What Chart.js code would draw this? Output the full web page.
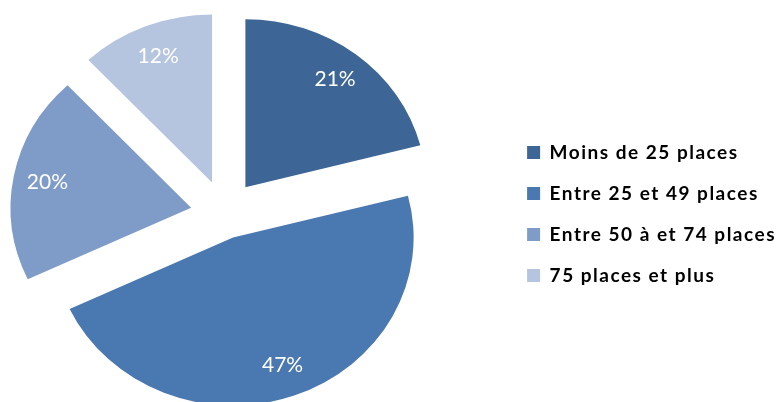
<!DOCTYPE html>
<html>
<head>
<meta charset="utf-8">
<script src="https://cdn.jsdelivr.net/npm/chart.js@4"></script>
<style>
  html, body { margin: 0; padding: 0; background: #fff; overflow: hidden; }
  #wrap { position: relative; width: 779px; height: 402px; overflow: hidden; }
  /* le canevas déborde un peu à gauche et à droite */
  #pieChart { position: absolute; left: -56px; top: 0; }
</style>
</head>
<body>
<div id="wrap"><canvas id="pieChart" width="842" height="402"></canvas></div>
<script>
// Répartition par taille (nombre de places)
var categories = ['Moins de 25 places', 'Entre 25 et 49 places', 'Entre 50 à et 74 places', '75 places et plus'];
var values = [21, 47, 20, 12];
var colors = ['#3d6595', '#4a78b0', '#7f9cc8', '#b5c4df'];

// parts détachées (px) et léger étirement horizontal du camembert
var explode = [34, 25, 34, 34];
var stretchX = 1.075;

// Dessine chaque part décalée vers l'extérieur
var explodedPie = {
  id: 'explodedPie',
  beforeUpdate: function (chart) { chart.ctx.letterSpacing = '1.5px'; },
  beforeDraw: function (chart) { chart.ctx.letterSpacing = '1.5px'; },
  beforeDatasetDraw: function (chart, args) {
    var ctx = chart.ctx;
    args.meta.data.forEach(function (arc, i) {
      var mid = (arc.startAngle + arc.endAngle) / 2;
      ctx.save();
      ctx.translate(arc.x + Math.cos(mid) * explode[i], arc.y + Math.sin(mid) * explode[i]);
      ctx.scale(stretchX, 1);
      ctx.translate(-arc.x, -arc.y);
      arc.draw(ctx);
      ctx.restore();
    });
    return false;
  },
  // Pourcentages écrits dans chaque part
  afterDatasetsDraw: function (chart) {
    var ctx = chart.ctx;
    var meta = chart.getDatasetMeta(0);
    var total = values.reduce(function (a, b) { return a + b; }, 0);
    ctx.save();
    ctx.letterSpacing = '0px';
    ctx.fillStyle = '#ffffff';
    ctx.font = '21px Lato, "Open Sans", sans-serif';
    ctx.textAlign = 'center';
    ctx.textBaseline = 'middle';
    meta.data.forEach(function (arc, i) {
      var mid = (arc.startAngle + arc.endAngle) / 2;
      var r = arc.outerRadius * 0.81;
      var cx = Math.cos(mid), cy = Math.sin(mid);
      var txt = Math.round(values[i] / total * 100) + '%';
      ctx.fillText(txt, arc.x + cx * (explode[i] + r * stretchX), arc.y + cy * (explode[i] + r));
    });
    ctx.restore();
  }
};

var ctx = document.getElementById('pieChart').getContext('2d');

var pieChart = new Chart(ctx, {
  type: 'pie',
  data: {
    labels: categories,
    datasets: [{
      data: values,
      backgroundColor: colors,
      borderWidth: 0
    }]
  },
  options: {
    responsive: false,
    animation: false,
    devicePixelRatio: 1,
    radius: 168,
    layout: { padding: { left: 0, right: 0, top: 26, bottom: 0 } },
    plugins: {
      tooltip: { enabled: false },
      legend: {
        position: 'right',
        labels: {
          boxWidth: 13,
          boxHeight: 13,
          padding: 22,
          color: '#000000',
          font: { family: 'Lato, "Open Sans", sans-serif', size: 19, weight: 'bold' }
        }
      }
    }
  },
  plugins: [explodedPie]
});
</script>
</body>
</html>
